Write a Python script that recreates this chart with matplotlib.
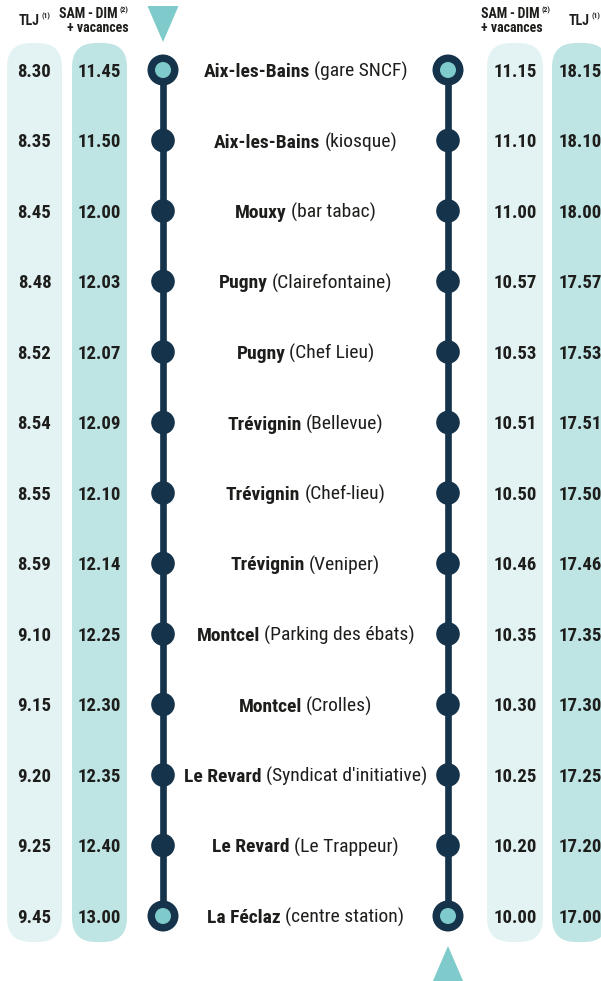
import os
import matplotlib
matplotlib.use("Agg")
import matplotlib.pyplot as plt
from matplotlib.patches import FancyBboxPatch, Circle, Polygon
from matplotlib.font_manager import FontProperties
from matplotlib import font_manager as fm

# ---------------- data ----------------
station_names = ["Aix-les-Bains", "Aix-les-Bains", "Mouxy", "Pugny", "Pugny",
                 "Trévignin", "Trévignin", "Trévignin", "Montcel", "Montcel",
                 "Le Revard", "Le Revard", "La Féclaz"]
station_details = ["(gare SNCF)", "(kiosque)", "(bar tabac)", "(Clairefontaine)",
                   "(Chef Lieu)", "(Bellevue)", "(Chef-lieu)", "(Veniper)",
                   "(Parking des ébats)", "(Crolles)", "(Syndicat d'initiative)",
                   "(Le Trappeur)", "(centre station)"]
out_tlj = ["8.30", "8.35", "8.45", "8.48", "8.52", "8.54", "8.55", "8.59",
           "9.10", "9.15", "9.20", "9.25", "9.45"]
out_samdim = ["11.45", "11.50", "12.00", "12.03", "12.07", "12.09", "12.10",
              "12.14", "12.25", "12.30", "12.35", "12.40", "13.00"]
ret_samdim = ["11.15", "11.10", "11.00", "10.57", "10.53", "10.51", "10.50",
              "10.46", "10.35", "10.30", "10.25", "10.20", "10.00"]
ret_tlj = ["18.15", "18.10", "18.00", "17.57", "17.53", "17.51", "17.50",
           "17.46", "17.35", "17.30", "17.25", "17.20", "17.00"]
header_tlj = "TLJ"
header_samdim = "SAM\u2009-\u2009DIM"
header_vac = "+ vacances"
sup_tlj = "(1)"
sup_samdim = "(2)"

# ---------------- style ----------------
DARK = "#15334a"
TEAL = "#7fcaca"
LIGHT = "#e3f3f3"
MED = "#bfe4e4"
TXT = "#1d1d1b"

files = {os.path.basename(f.fname): f.fname for f in fm.fontManager.ttflist}
CANDS = [("LiberationSansNarrow-Bold.ttf", "LiberationSansNarrow-Regular.ttf"),
         ("RobotoCondensed-Bold.ttf", "RobotoCondensed-Regular.ttf"),
         ("NotoSans-CondensedBold.ttf", "NotoSans-Condensed.ttf"),
         ("DejaVuSansCondensed-Bold.ttf", "DejaVuSansCondensed.ttf")]
FB = FontProperties(family="DejaVu Sans", weight="bold")
FR = FontProperties(family="DejaVu Sans")
for b, r in CANDS:
    if b in files and r in files:
        FB = FontProperties(fname=files[b])
        FR = FontProperties(fname=files[r])
        break


def fp(base, size):
    p = base.copy()
    p.set_size(size)
    return p


W, H = 601, 981
fig = plt.figure(figsize=(W / 100, H / 100), dpi=100)
ax = fig.add_axes([0, 0, 1, 1])
ax.set_xlim(0, W)
ax.set_ylim(H, 0)
ax.axis("off")
renderer = fig.canvas.get_renderer()

n = len(station_names)
row0, step = 70, 70.5
rows = [row0 + i * step for i in range(n)]
LX, RX = 163, 448

# pills
pill_top, pill_bot = 43, 942
for x0, x1, col in [(7, 62, LIGHT), (72, 127, MED), (487, 543, LIGHT), (552, 608, MED)]:
    ax.add_patch(FancyBboxPatch((x0, pill_top), x1 - x0, pill_bot - pill_top,
                                boxstyle="round,pad=0,rounding_size=24",
                                fc=col, ec="none", zorder=1))

# lines
for x in (LX, RX):
    ax.plot([x, x], [rows[0], rows[-1]], color=DARK, lw=4.8, zorder=2,
            solid_capstyle="butt")
    for i, y in enumerate(rows):
        if i == 0 or i == n - 1:
            ax.add_patch(Circle((x, y), 15.5, fc=DARK, ec="none", zorder=3))
            ax.add_patch(Circle((x, y), 8, fc=TEAL, ec="none", zorder=4))
        else:
            ax.add_patch(Circle((x, y), 11.8, fc=DARK, ec="none", zorder=3))

# direction triangles
ax.add_patch(Polygon([(147.5, 6), (178.5, 6), (163, 42)], closed=True, fc=TEAL, ec="none"))
ax.add_patch(Polygon([(RX, 946), (RX - 15.5, 982), (RX + 15.5, 982)], closed=True, fc=TEAL, ec="none"))

# times
NUM = fp(FB, 13.5)
for col_x, vals in [(34.5, out_tlj), (99.5, out_samdim), (515, ret_samdim), (580, ret_tlj)]:
    for y, v in zip(rows, vals):
        ax.text(col_x, y + 6.8, v, fontproperties=NUM, color=TXT,
                ha="center", va="baseline", zorder=5)

# stations
SB = fp(FB, 14)
SR = fp(FR, 14)


def width(s, p):
    t = ax.text(0, 0, s, fontproperties=p)
    w = t.get_window_extent(renderer).width
    t.remove()
    return w


gap = 4
cx = 305.5
for y, nm, dt in zip(rows, station_names, station_details):
    wb = width(nm, SB)
    wr = width(dt, SR)
    x0 = cx - (wb + gap + wr) / 2
    ax.text(x0, y + 7, nm, fontproperties=SB, color=TXT, ha="left", va="baseline", zorder=5)
    ax.text(x0 + wb + gap, y + 7, dt, fontproperties=SR, color=TXT, ha="left", va="baseline", zorder=5)

# headers
HB = fp(FB, 10)
SUP = fp(FB, 5.5)
ax.text(40, 25, header_tlj, fontproperties=HB, color=TXT, ha="right", va="baseline")
ax.text(42, 18, sup_tlj, fontproperties=SUP, color=TXT, ha="left", va="baseline")
ax.text(118, 18, header_samdim, fontproperties=HB, color=TXT, ha="right", va="baseline")
ax.text(120, 12, sup_samdim, fontproperties=SUP, color=TXT, ha="left", va="baseline")
ax.text(98, 32, header_vac, fontproperties=HB, color=TXT, ha="center", va="baseline")

ax.text(540, 18, header_samdim, fontproperties=HB, color=TXT, ha="right", va="baseline")
ax.text(542, 12, sup_samdim, fontproperties=SUP, color=TXT, ha="left", va="baseline")
ax.text(512, 32, header_vac, fontproperties=HB, color=TXT, ha="center", va="baseline")
ax.text(590, 25, header_tlj, fontproperties=HB, color=TXT, ha="right", va="baseline")
ax.text(592, 18, sup_tlj, fontproperties=SUP, color=TXT, ha="left", va="baseline")

fig.savefig("out.png", dpi=100)
